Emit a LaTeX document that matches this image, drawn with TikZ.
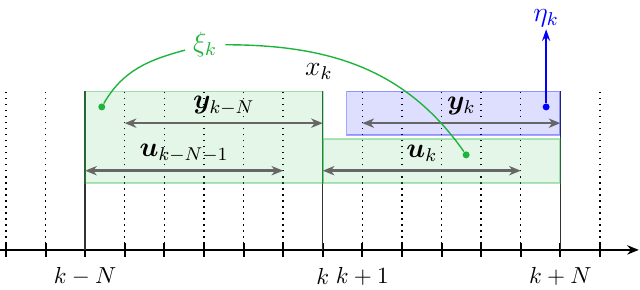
\documentclass[tikz,border=0pt]{standalone}
\usepackage{amsmath,amssymb,bm}
\usetikzlibrary{arrows.meta,positioning,calc}
\definecolor{xigreen}{RGB}{30,180,60}

\begin{document}
\begin{tikzpicture}[
  x=0.6cm, y=0.6cm,
  >=Stealth,
  win/.style={
    draw=xigreen, draw opacity=0.35,
    fill=xigreen, fill opacity=0.12, line width=0.8pt
  },
  meas/.style={
    draw=blue, draw opacity=0.35,
    fill=blue, fill opacity=0.13, line width=0.8pt
  },
  grid/.style={dotted, line width=0.6pt},
  bar/.style={draw=black!80, line width=0.6pt},
  tick/.style={line width=0.9pt},
  axis/.style={-{Stealth[length=5pt,width=4pt]}, line width=0.9pt},
  arr/.style={<->, draw=black!60, line width=1.1pt,
    >={Stealth[length=5pt,width=4pt,inset=1.5pt]}},
  lbl/.style={midway, yshift=7.5pt, inner sep=1pt, font=\large},
  dot/.style={circle, inner sep=0pt, minimum size=3pt},
  link/.style={draw=xigreen, line width=0.6pt},
  up/.style={->, draw=blue, line width=0.6pt, >={Stealth[length=5pt,width=3.5pt]}}
]
\useasboundingbox (-0.15,-1.01) rectangle (16.01,6.31);

% time axis
\draw[axis] (-0.15,0) -- (15.98,0);
\foreach \i in {0,...,15} {
  \coordinate (t\i) at (\i,0);
  \draw[tick] (\i,-0.17) -- (\i,0.17);
}
\foreach \i in {0,1,3,4,5,6,7,9,10,11,12,13,15}
  \draw[grid] (t\i) -- ++(0,4);
\foreach \i in {2,8,14}
  \draw[bar] (t\i) -- ++(0,4);

% windows
\draw[win]  (2,1.7) rectangle (8,4);
\draw[win]  (8,1.7) rectangle (14,2.8);
\draw[meas] (8.6,2.9) rectangle (14,4);

% horizons
\coordinate (Ya) at (3,3.2);  \coordinate (Yb) at (8,3.2);
\coordinate (Ua) at (2,2.0);  \coordinate (Ub) at (7,2.0);
\coordinate (Yc) at (9,3.2);  \coordinate (Yd) at (14,3.2);
\coordinate (Uc) at (8,2.0);  \coordinate (Ud) at (13,2.0);

\draw[arr] (Ya) -- node[lbl] {$\bm{y}_{k-N}$} (Yb);
\draw[arr] (Ua) -- node[lbl] {$\bm{u}_{k-N-1}$} (Ub);
\draw[arr] (Yc) -- node[lbl] {$\bm{y}_{k}$} (Yd);
\draw[arr] (Uc) -- node[lbl] {$\bm{u}_{k}$} (Ud);

% axis labels
\node (Lkn) at (2,-0.66)  {$k-N$};
\node (Lk)  at (8,-0.66)  {$k$};
\node (Lk1) at (9,-0.66)  {$k+1$};
\node (Lkp) at (14,-0.66) {$k+N$};
\node[font=\large] (X) at (7.9,4.5) {$x_k$};

% noise
\node[dot, fill=xigreen] (G1) at (2.42,3.61) {};
\node[dot, fill=xigreen] (G2) at (11.62,2.4) {};
\node[text=xigreen, font=\large] (Xi) at (5.03,5.18) {$\xi_k$};
\draw[link] (G1) to[out=60, in=195] (Xi);
\draw[link] (Xi) to[out=0, in=125] (G2);

\node[dot, fill=blue] (B1) at (13.64,3.61) {};
\node[text=blue, font=\large, inner sep=0pt] (Eta) at (13.64,5.86) {$\eta_k$};
\draw[up, shorten >=1pt] (B1) -- (Eta);

\end{tikzpicture}
\end{document}
